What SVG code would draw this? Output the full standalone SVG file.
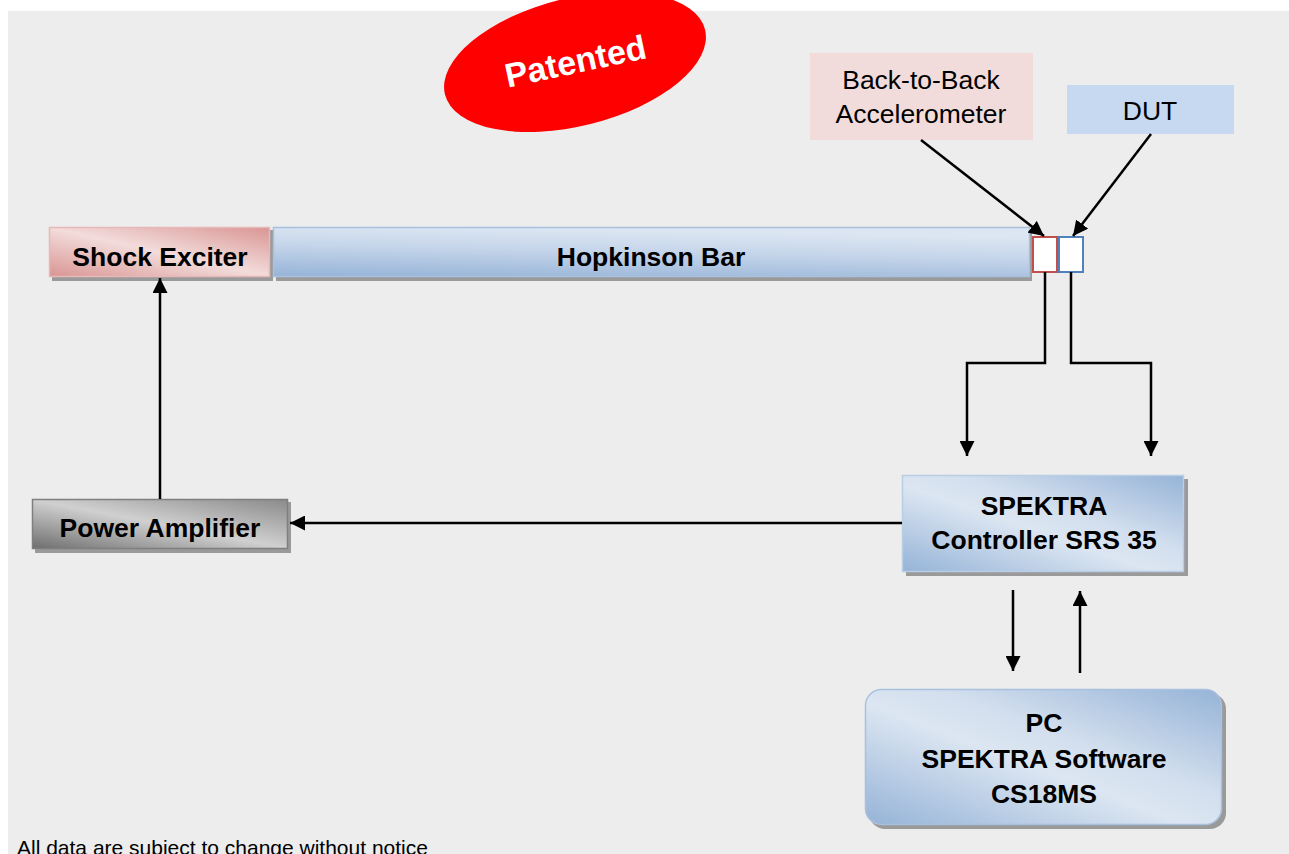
<svg xmlns="http://www.w3.org/2000/svg" width="1289" height="854" viewBox="0 0 1289 854">
<defs>
<linearGradient id="gPink" x1="0" y1="1" x2="1" y2="0">
<stop offset="0" stop-color="#D99593"/>
<stop offset="0.5" stop-color="#F2DCDB"/>
<stop offset="1" stop-color="#D99593"/>
</linearGradient>
<linearGradient id="gBar" x1="0" y1="1" x2="0.3" y2="0">
<stop offset="0" stop-color="#95B3D7"/>
<stop offset="0.6" stop-color="#C5D5EA"/>
<stop offset="1" stop-color="#DCE6F2"/>
</linearGradient>
<linearGradient id="gBlue" x1="0" y1="1" x2="1" y2="0">
<stop offset="0" stop-color="#95B3D7"/>
<stop offset="0.45" stop-color="#DCE6F2"/>
<stop offset="0.6" stop-color="#D3DFEE"/>
<stop offset="1" stop-color="#95B3D7"/>
</linearGradient>
<linearGradient id="gGray" x1="0" y1="1" x2="1" y2="0">
<stop offset="0" stop-color="#6E6E6E"/>
<stop offset="0.5" stop-color="#D0D0D0"/>
<stop offset="1" stop-color="#8A8A8A"/>
</linearGradient>
<marker id="ah" viewBox="0 0 10 10" refX="10" refY="5" markerWidth="6" markerHeight="6" markerUnits="strokeWidth" orient="auto">
<path d="M0,0 L10,5 L0,10 z" fill="#000"/>
</marker>
<style>
.lbl{font-family:"Liberation Sans",Arial,sans-serif;font-weight:bold;font-size:26.5px;fill:#000;text-anchor:middle}
.reg{font-family:"Liberation Sans",Arial,sans-serif;font-size:26.5px;fill:#000;text-anchor:middle}
.shadow{fill:#000;opacity:0.35}
.conn{stroke:#000;stroke-width:2.5;fill:none}
</style>
</defs>
<rect x="0" y="0" width="1289" height="854" fill="#FFFFFF"/>
<rect x="8" y="11" width="1281" height="843" fill="#EDEDED"/>

<g id="patented">
<ellipse cx="575" cy="62" rx="134" ry="64" transform="rotate(-14 575 62)" fill="#FF0000"/>
<text x="576" y="64" transform="rotate(-12 576 64)" font-family="Liberation Sans, Arial, sans-serif" font-weight="bold" font-size="34" fill="#FFFFFF" text-anchor="middle" dominant-baseline="middle">Patented</text>
</g>

<g id="shock-exciter">
<rect x="52" y="230" width="221" height="51" class="shadow"/>
<rect x="49.5" y="227.5" width="220" height="49" fill="url(#gPink)" stroke="#E6B9B8" stroke-width="1.5"/>
<text x="160" y="265.5" class="lbl">Shock Exciter</text>
</g>

<g id="hopkinson-bar">
<rect x="276" y="230" width="756" height="51" class="shadow"/>
<rect x="273.5" y="227.5" width="756" height="49" fill="url(#gBar)" stroke="#A9C0DE" stroke-width="1.5"/>
<text x="651" y="265.5" class="lbl">Hopkinson Bar</text>
</g>

<g id="accel-mount">
<rect x="1033" y="237" width="24" height="35" fill="#FFFFFF" stroke="#C0504D" stroke-width="2"/>
</g>
<g id="dut-mount">
<rect x="1059" y="237" width="24" height="35" fill="#FFFFFF" stroke="#4F81BD" stroke-width="2"/>
</g>

<g id="back-to-back">
<rect x="810" y="53" width="223" height="87" fill="#F2DCDB"/>
<text x="921" y="88.5" class="reg">Back-to-Back</text>
<text x="921" y="122.5" class="reg">Accelerometer</text>
</g>

<g id="dut">
<rect x="1067" y="85" width="167" height="49" fill="#C6D9F1"/>
<text x="1150" y="120" class="reg">DUT</text>
</g>

<g id="controller">
<rect x="906" y="479" width="282" height="97" class="shadow"/>
<rect x="902.5" y="475.5" width="281" height="96" fill="url(#gBlue)" stroke="#B9CDE5" stroke-width="1.5"/>
<text x="1044" y="514.5" class="lbl">SPEKTRA</text>
<text x="1044" y="548.5" class="lbl">Controller SRS 35</text>
</g>

<g id="power-amplifier">
<rect x="35" y="502" width="256" height="51" class="shadow"/>
<rect x="32.5" y="499.5" width="255" height="49" fill="url(#gGray)" stroke="#7F7F7F" stroke-width="1.5"/>
<text x="160" y="537" class="lbl">Power Amplifier</text>
</g>

<g id="pc">
<rect x="869" y="693" width="357" height="136" rx="16" class="shadow"/>
<rect x="865.5" y="689.5" width="356" height="135" rx="16" fill="url(#gBlue)" stroke="#A9C0DE" stroke-width="1.5"/>
<text x="1044" y="731.5" class="lbl">PC</text>
<text x="1044" y="767.5" class="lbl">SPEKTRA Software</text>
<text x="1044" y="802.5" class="lbl">CS18MS</text>
</g>

<g id="connectors">
<line x1="921" y1="140" x2="1044" y2="236" class="conn" marker-end="url(#ah)"/>
<line x1="1151" y1="134" x2="1073" y2="236" class="conn" marker-end="url(#ah)"/>
<polyline points="1045,272 1045,363 967,363 967,456" class="conn" marker-end="url(#ah)"/>
<polyline points="1071,272 1071,363 1151,363 1151,456" class="conn" marker-end="url(#ah)"/>
<line x1="902" y1="523" x2="290" y2="523" class="conn" marker-end="url(#ah)"/>
<line x1="160" y1="499" x2="160" y2="278" class="conn" marker-end="url(#ah)"/>
<line x1="1013" y1="590" x2="1013" y2="671" class="conn" marker-end="url(#ah)"/>
<line x1="1080" y1="673" x2="1080" y2="591" class="conn" marker-end="url(#ah)"/>
</g>

<text x="17" y="855" font-family="Liberation Sans, Arial, sans-serif" font-size="21" fill="#000">All data are subject to change without notice</text>
</svg>
